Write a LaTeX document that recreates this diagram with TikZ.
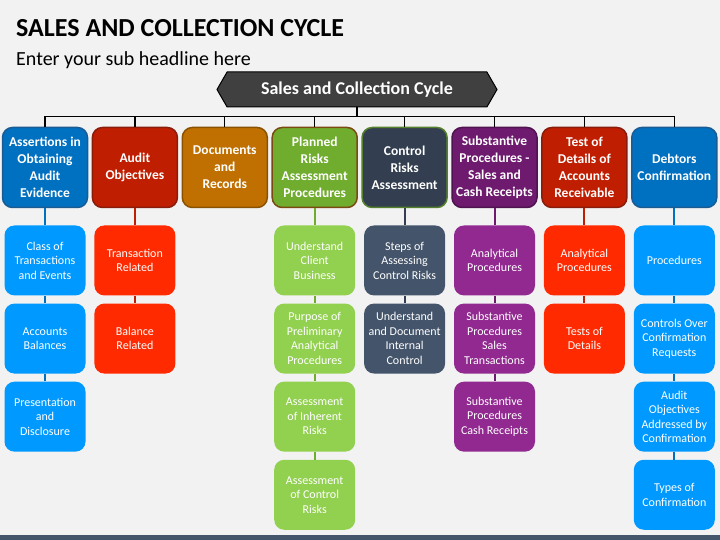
\documentclass[tikz,border=0pt]{standalone}
\usepackage{fontspec}
\setmainfont{Carlito}
\usetikzlibrary{positioning, shapes.symbols}

\definecolor{bgcol}{HTML}{F2F2F2}
\definecolor{bannercol}{HTML}{404040}
\definecolor{barcol}{HTML}{44546A}
% top boxes
\definecolor{blueA}{HTML}{0070C0}
\definecolor{blueAd}{HTML}{1B5B94}
\definecolor{redA}{HTML}{C01E00}
\definecolor{redAd}{HTML}{8A1C0C}
\definecolor{orangeA}{HTML}{C07000}
\definecolor{orangeAd}{HTML}{8A5200}
\definecolor{greenA}{HTML}{70AD2F}
\definecolor{brownAd}{HTML}{7A4A12}
\definecolor{slateA}{HTML}{333F50}
\definecolor{greenAd}{HTML}{55802D}
\definecolor{purpleA}{HTML}{6E1A6E}
\definecolor{purpleAd}{HTML}{4F1350}
% sub boxes
\definecolor{blueB}{HTML}{0099FF}
\definecolor{redB}{HTML}{FF2A00}
\definecolor{greenB}{HTML}{92D050}
\definecolor{slateB}{HTML}{44546A}
\definecolor{purpleB}{HTML}{912990}

\begin{document}
\begin{tikzpicture}[
  x=1pt, y=1pt,
  node distance=7.7pt and 3.4pt,
  font=\fontsize{12}{14.5}\selectfont,
  top/.style={
    rectangle, rounded corners=10pt,
    draw, line width=1.5pt, align=center,
    text=white, inner sep=1pt,
    font=\fontsize{13.5}{17}\selectfont\bfseries,
    minimum width=85pt,
    minimum height=80pt
  },
  sub/.style={
    rectangle, rounded corners=10pt,
    align=center, text=white, inner sep=1pt,
    minimum width=81pt,
    minimum height=70pt
  },
  link/.style={line width=2pt},
  bus/.style={line width=1.2pt, draw=black},
]

% --- Background / frame ---
\fill[bgcol] (0,0) rectangle (720,-540);
\useasboundingbox (0,0) rectangle (720,-540);
\fill[barcol] (0,-535) rectangle (720,-540);

% --- Headings ---
\node[anchor=west, inner sep=0pt, font=\fontsize{26}{30}\selectfont\bfseries] (TITLE) at (16,-28) {SALES AND COLLECTION CYCLE};
\node[anchor=west, inner sep=0pt, font=\fontsize{20}{24}\selectfont] (SUB) at (16,-60) {Enter your sub headline here};

% --- Banner ---
\node[signal, signal to=west and east, signal pointer angle=120,
      fill=bannercol, draw=black, line width=1pt, text=white,
      font=\fontsize{18}{21}\selectfont\bfseries,
      minimum width=280pt, minimum height=35pt] (B) at (357,-89.5) {Sales and Collection Cycle};

% --- Top row ---
\node[top, fill=blueA, draw=blueAd] (T1) at (45,-167.5) {Assertions in\\ Obtaining\\ Audit\\ Evidence};
\node[top, fill=redA, draw=redAd, right=of T1] (T2) {Audit\\ Objectives};
\node[top, fill=orangeA, draw=orangeAd, right=of T2] (T3) {Documents\\ and\\ Records};
\node[top, fill=greenA, draw=brownAd, right=of T3] (T4) {Planned\\ Risks\\ Assessment\\ Procedures};
\node[top, fill=slateA, draw=greenAd, right=of T4] (T5) {Control\\ Risks\\ Assessment};
\node[top, fill=purpleA, draw=purpleAd, right=of T5] (T6) {Substantive\\ Procedures -\\ Sales and\\ Cash Receipts};
\node[top, fill=redA, draw=redAd, right=of T6] (T7) {Test of\\ Details of\\ Accounts\\ Receivable};
\node[top, fill=blueA, draw=blueAd, right=of T7] (T8) {Debtors\\ Confirmation};

% --- Column 1 ---
\node[sub, fill=blueB, below=17pt of T1] (C1a) {Class of\\ Transactions\\ and Events};
\node[sub, fill=blueB, below=of C1a] (C1b) {Accounts\\ Balances};
\node[sub, fill=blueB, below=of C1b] (C1c) {Presentation\\ and\\ Disclosure};

% --- Column 2 ---
\node[sub, fill=redB, below=17pt of T2] (C2a) {Transaction\\ Related};
\node[sub, fill=redB, below=of C2a] (C2b) {Balance\\ Related};

% --- Column 4 ---
\node[sub, fill=greenB, below=17pt of T4] (C4a) {Understand\\ Client\\ Business};
\node[sub, fill=greenB, below=of C4a] (C4b) {Purpose of\\ Preliminary\\ Analytical\\ Procedures};
\node[sub, fill=greenB, below=of C4b] (C4c) {Assessment\\ of Inherent\\ Risks};
\node[sub, fill=greenB, below=of C4c] (C4d) {Assessment\\ of Control\\ Risks};

% --- Column 5 ---
\node[sub, fill=slateB, below=17pt of T5] (C5a) {Steps of\\ Assessing\\ Control Risks};
\node[sub, fill=slateB, below=of C5a] (C5b) {Understand\\ and Document\\ Internal\\ Control};

% --- Column 6 ---
\node[sub, fill=purpleB, below=17pt of T6] (C6a) {Analytical\\ Procedures};
\node[sub, fill=purpleB, below=of C6a] (C6b) {Substantive\\ Procedures\\ Sales\\ Transactions};
\node[sub, fill=purpleB, below=of C6b] (C6c) {Substantive\\ Procedures\\ Cash Receipts};

% --- Column 7 ---
\node[sub, fill=redB, below=17pt of T7] (C7a) {Analytical\\ Procedures};
\node[sub, fill=redB, below=of C7a] (C7b) {Tests of\\ Details};

% --- Column 8 ---
\node[sub, fill=blueB, below=17pt of T8] (C8a) {Procedures};
\node[sub, fill=blueB, below=of C8a] (C8b) {Controls Over\\ Confirmation\\ Requests};
\node[sub, fill=blueB, below=of C8b] (C8c) {Audit\\ Objectives\\ Addressed by\\ Confirmation};
\node[sub, fill=blueB, below=of C8c] (C8d) {Types of\\ Confirmation};

% --- Bus from banner ---
\foreach \i in {1,...,8}
  \draw[bus] (B.south) -- ++(0,-9) -| (T\i.north);

% --- Column links ---
\draw[link, blueA] (T1) -- (C1a) (C1a) -- (C1b) (C1b) -- (C1c);
\draw[link, redA] (T2) -- (C2a) (C2a) -- (C2b);
\draw[link, greenA] (T4) -- (C4a) (C4a) -- (C4b) (C4b) -- (C4c) (C4c) -- (C4d);
\draw[link, slateA] (T5) -- (C5a) (C5a) -- (C5b);
\draw[link, purpleA] (T6) -- (C6a) (C6a) -- (C6b) (C6b) -- (C6c);
\draw[link, redA] (T7) -- (C7a) (C7a) -- (C7b);
\draw[link, blueA] (T8) -- (C8a) (C8a) -- (C8b) (C8b) -- (C8c) (C8c) -- (C8d);

\end{tikzpicture}
\end{document}
